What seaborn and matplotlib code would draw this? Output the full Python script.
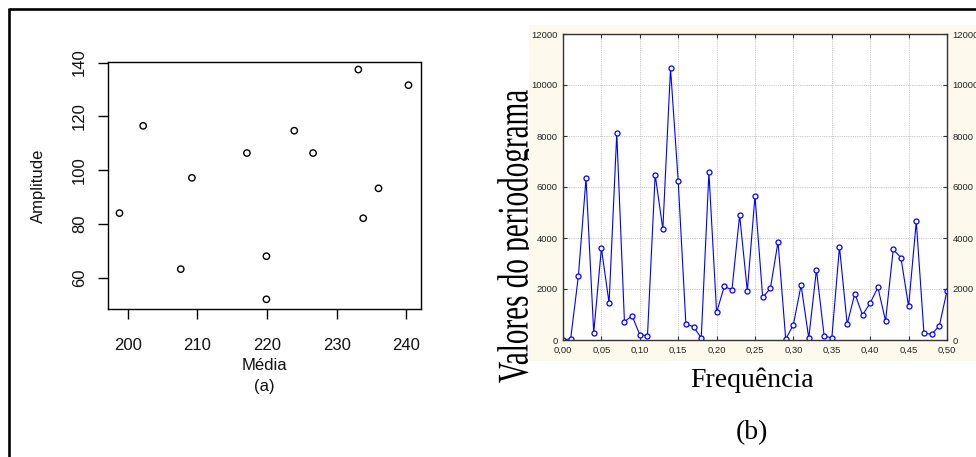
import matplotlib
matplotlib.use("Agg")
import matplotlib.pyplot as plt
import matplotlib.patheffects as pe
from matplotlib.transforms import Affine2D
from matplotlib.patches import Rectangle
from matplotlib.lines import Line2D
import seaborn as sns
import numpy as np

# ---------------- data ----------------
media = [198.8, 202.2, 207.6, 209.2, 217.1, 219.9, 219.9, 223.9, 226.6, 233.1, 233.8, 236.0, 240.3]
amplitude = [84.1, 116.5, 63.3, 97.2, 106.4, 68.1, 52.1, 114.7, 106.4, 137.4, 82.2, 93.3, 131.6]

frequencia = [0.00, 0.01, 0.02, 0.03, 0.04, 0.05, 0.06, 0.07, 0.08, 0.09,
              0.10, 0.11, 0.12, 0.13, 0.14, 0.15, 0.16, 0.17, 0.18, 0.19,
              0.20, 0.21, 0.22, 0.23, 0.24, 0.25, 0.26, 0.27, 0.28, 0.29,
              0.30, 0.31, 0.32, 0.33, 0.34, 0.35, 0.36, 0.37, 0.38, 0.39,
              0.40, 0.41, 0.42, 0.43, 0.44, 0.45, 0.46, 0.47, 0.48, 0.49, 0.50]
periodograma = [0, 50, 2500, 6350, 280, 3600, 1450, 8100, 720, 950,
                200, 170, 6480, 4350, 10650, 6230, 630, 520, 80, 6570,
                1080, 2100, 1970, 4900, 1920, 5650, 1670, 2020, 3850, 30,
                600, 2150, 70, 2750, 170, 70, 3650, 620, 1820, 980,
                1450, 2060, 750, 3550, 3230, 1320, 4650, 260, 230, 550, 1930]

left_xticks = [200, 210, 220, 230, 240]
left_yticks = [60, 80, 100, 120, 140]
right_xticks = [0.00, 0.05, 0.10, 0.15, 0.20, 0.25, 0.30, 0.35, 0.40, 0.45, 0.50]
right_xticklabels = ["0,00", "0,05", "0,10", "0,15", "0,20", "0,25", "0,30", "0,35", "0,40", "0,45", "0,50"]
right_yticks = [0, 2000, 4000, 6000, 8000, 10000, 12000]

# ---------------- figure ----------------
sns.set_style("white")
W, H = 976, 457
fig = plt.figure(figsize=(W / 100, H / 100), dpi=100)
fig.patch.set_facecolor("white")


def fx(px):
    return px / W


def fy(py):
    return (H - py) / H


# outer border (top & left)
fig.add_artist(Line2D([fx(9), 1.0], [fy(8.8), fy(8.8)], color="black", lw=1.9,
                      transform=fig.transFigure, solid_capstyle="butt"))
fig.add_artist(Line2D([fx(9), fx(9)], [fy(7.9), 0.0], color="black", lw=1.9,
                      transform=fig.transFigure, solid_capstyle="butt"))

# ---------------- panel (a) ----------------
sans = ["Liberation Sans", "DejaVu Sans"]
ax1 = fig.add_axes([fx(108), fy(309), fx(421) - fx(108), fy(62) - fy(309)])
sns.scatterplot(x=media, y=amplitude, ax=ax1, marker="o", s=21,
                facecolor="none", edgecolor="black", linewidth=1.0, legend=False)
ax1.set_xlim(197.15, 242.1)
ax1.set_ylim(48.5, 140.2)
ax1.set_xticks(left_xticks)
ax1.set_yticks(left_yticks)
for s in ax1.spines.values():
    s.set_visible(True)
    s.set_color("black")
    s.set_linewidth(1.0)
ax1.tick_params(axis="both", direction="out", length=7, width=1.0, color="black",
                labelsize=12, labelcolor="#111111")
ax1.tick_params(axis="x", bottom=True, pad=14)
ax1.tick_params(axis="y", left=True, pad=8, labelrotation=90)
for lab in ax1.get_yticklabels():
    lab.set_va("center")
for lab in ax1.get_xticklabels() + ax1.get_yticklabels():
    lab.set_family(sans)
ax1.set_xlabel("Média", fontsize=12, family=sans, color="#111111")
ax1.xaxis.label.set(va="center")
ax1.xaxis.set_label_coords(0.5, (309 - 366) / 247)
ax1.set_ylabel("Amplitude", fontsize=12, family=sans, color="#111111")
ax1.yaxis.label.set(va="center", ha="center", rotation_mode="default")
ax1.yaxis.set_label_coords((38.5 - 108) / 313, 0.5)
fig.text(fx(264.5), fy(387), "(a)", fontsize=12, family=sans, color="#111111",
         ha="center", va="center")

# ---------------- panel (b) ----------------
cream = "#fdf9ec"
fig.add_artist(Rectangle((fx(529), fy(361)), 1 - fx(529), fy(25) - fy(361),
                         transform=fig.transFigure, facecolor=cream,
                         edgecolor="none", zorder=0))


class Stretch(pe.AbstractPathEffect):
    def __init__(self, sy):
        super().__init__()
        self.sy = sy

    def draw_path(self, renderer, gc, tpath, affine, rgbFace=None):
        renderer.draw_path(gc, tpath, Affine2D().scale(1.0, self.sy) + affine, rgbFace)


serif = ["Liberation Serif", "DejaVu Serif"]
fig.text(fx(527.5), fy(383), "Valores do periodograma", fontsize=21, family=serif,
         color="black", rotation=90, rotation_mode="anchor", ha="left",
         va="baseline", zorder=-1, path_effects=[Stretch(1.5)])

ax2 = fig.add_axes([fx(563), fy(340), fx(947) - fx(563), fy(34) - fy(340)], zorder=1)
ax2.set_facecolor("white")
sns.lineplot(x=frequencia, y=periodograma, ax=ax2, color="#0000ff", linewidth=0.8,
             marker="o", markersize=3.6, markerfacecolor="white",
             markeredgecolor="#0000ff", markeredgewidth=0.9, errorbar=None,
             legend=False)
ax2.set_xlim(0, 0.5)
ax2.set_ylim(0, 12000)
ax2.set_xticks(right_xticks)
ax2.set_xticklabels(right_xticklabels)
ax2.set_yticks(right_yticks)
ax2.set_xlabel("")
ax2.set_ylabel("")
ax2.grid(True, linestyle=(0, (1, 1.2)), color="#b5b5b5", linewidth=0.6)
ax2.set_axisbelow(True)
for s in ax2.spines.values():
    s.set_visible(True)
    s.set_color("#333333")
    s.set_linewidth(1.0)
ax2.tick_params(axis="both", direction="in", length=3, width=0.8, color="#333333",
                labelsize=6.8, labelcolor="#222222", top=True, bottom=True,
                left=True, right=True)
ax2.tick_params(axis="y", labelright=True, pad=4)
ax2.tick_params(axis="x", pad=4)
for lab in ax2.get_xticklabels() + ax2.get_yticklabels():
    lab.set_family(sans)
for t in ax2.yaxis.get_major_ticks():
    t.label2.set_family(sans)

fig.text(fx(752), fy(387.3), "Frequência", fontsize=20, family=serif, color="black",
         ha="center", va="baseline")
fig.text(fx(752), fy(439), "(b)", fontsize=20, family=serif, color="black",
         ha="center", va="baseline")

fig.savefig("out.png", dpi=100, facecolor="white")
